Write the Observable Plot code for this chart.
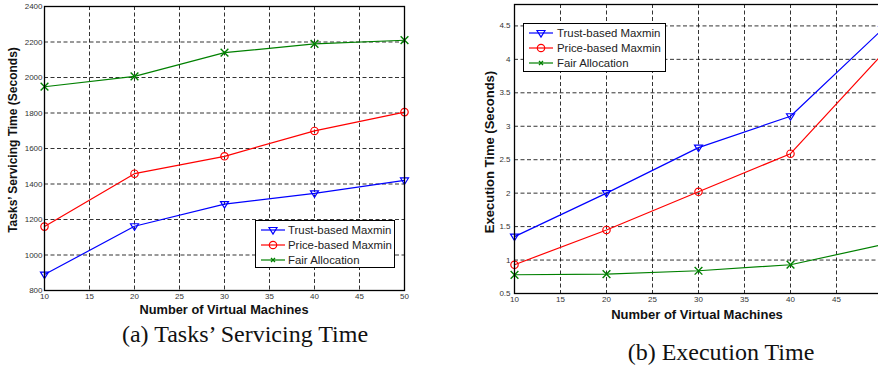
<!DOCTYPE html>
<html>
<head>
<meta charset="utf-8">
<script src="https://cdn.jsdelivr.net/npm/d3@7"></script>
<script src="https://cdn.jsdelivr.net/npm/@observablehq/plot@0.6"></script>
<style>
  html, body { margin: 0; padding: 0; background: #fff; }
  #wrap { position: relative; width: 878px; height: 368px; overflow: hidden; background: #fff; }
  .chart { position: absolute; top: 0; }
  .ttl { position: absolute; font-family: "Liberation Sans", Arial, sans-serif; font-weight: bold; color: #111; white-space: nowrap; transform: translate(-50%, -50%); }
  .ytl { transform: translate(-50%, -50%) rotate(-90deg); }
  .cap { position: absolute; font-family: "Liberation Serif", "Times New Roman", serif; font-size: 24px; color: #111; white-space: nowrap; transform: translate(-50%, -50%); }
  .leg { position: absolute; border: 1px solid #000; background: #fff; font-family: "Liberation Sans", Arial, sans-serif; font-size: 11.4px; color: #222; box-sizing: border-box; }
  .row { position: absolute; left: 0; height: 14px; display: flex; align-items: center; white-space: nowrap; }
  .row svg { display: block; }
</style>
</head>
<body>
<div id="wrap"></div>
<script>
// ---- data ----
const vms = [10, 20, 30, 40, 50];
const servTrust = [890, 1162, 1287, 1347, 1420];
const servPrice = [1160, 1458, 1556, 1699, 1805];
const servFair  = [1948, 2006, 2140, 2189, 2210];
const execTrust = [1.35, 2.0, 2.68, 3.15, 4.45];
const execPrice = [0.93, 1.45, 2.02, 2.59, 4.08];
const execFair  = [0.78, 0.79, 0.84, 0.93, 1.23];
const xTicks = [10, 15, 20, 25, 30, 35, 40, 45, 50];
const servTicks = [800, 1000, 1200, 1400, 1600, 1800, 2000, 2200, 2400];
const execTicks = [0.5, 1, 1.5, 2, 2.5, 3, 3.5, 4, 4.5];
const seriesNames = ["Trust-based Maxmin", "Price-based Maxmin", "Fair Allocation"];
const seriesColors = ["#0000ff", "#ff0000", "#008000"];

// custom downward triangle symbol
const triDown = {
  draw(ctx, size) {
    const r = Math.sqrt(size / Math.PI);
    ctx.moveTo(-r, -r * 0.62);
    ctx.lineTo(r, -r * 0.62);
    ctx.lineTo(0, r * 1.0);
    ctx.closePath();
  }
};

function rows(vals) { return vms.map((x, i) => ({x, y: vals[i]})); }

function makeChart(o) {
  const sets = [rows(o.s[0]), rows(o.s[1]), rows(o.s[2])];
  return Plot.plot({
    width: o.width, height: o.height,
    marginLeft: o.ml, marginRight: o.mr, marginTop: o.mt, marginBottom: o.mb,
    style: { fontFamily: "Liberation Sans, Arial, sans-serif", fontSize: "8px", color: "#333", background: "transparent", overflow: "visible" },
    x: { domain: [10, 50], ticks: xTicks, tickSize: 0, tickPadding: 3, tickFormat: d => String(d), label: null },
    y: { domain: o.ydom, ticks: o.yticks, tickSize: 0, tickPadding: o.yp, tickFormat: d => String(d), label: null },
    marks: [
      Plot.ruleX(xTicks, { stroke: "#000", strokeOpacity: 0.8, strokeWidth: 1, strokeDasharray: "4,2.5" }),
      Plot.ruleY(o.yticks, { stroke: "#000", strokeOpacity: 0.8, strokeWidth: 1, strokeDasharray: "4,2.5" }),
      Plot.line(sets[0], { x: "x", y: "y", stroke: seriesColors[0], strokeWidth: 1.2 }),
      Plot.line(sets[1], { x: "x", y: "y", stroke: seriesColors[1], strokeWidth: 1.2 }),
      Plot.line(sets[2], { x: "x", y: "y", stroke: seriesColors[2], strokeWidth: 1.2 }),
      Plot.dot(sets[0], { x: "x", y: "y", r: 4, symbol: triDown, stroke: seriesColors[0], fill: "none", strokeWidth: 1.2 }),
      Plot.dot(sets[1], { x: "x", y: "y", r: 3.7, stroke: seriesColors[1], fill: "none", strokeWidth: 1.2 }),
      Plot.dot(sets[2], { x: "x", y: "y", r: 3.6, symbol: "times", stroke: seriesColors[2], fill: "none", strokeWidth: 1.4 }),
      Plot.frame({ stroke: "#000", strokeWidth: 1.3 })
    ]
  });
}

const wrap = document.getElementById("wrap");

const a = makeChart({ width: 420, height: 305, ml: 44, mr: 16, mt: 6, mb: 15,
  ydom: [800, 2400], yticks: servTicks, yp: 2, s: [servTrust, servPrice, servFair] });
a.classList.add("chart"); a.style.left = "0px";
wrap.appendChild(a);

const b = makeChart({ width: 430, height: 310, ml: 54, mr: 8, mt: 4, mb: 17,
  ydom: [0.5, 4.82], yticks: execTicks, yp: 4, s: [execTrust, execPrice, execFair] });
b.classList.add("chart"); b.style.left = "460px";
wrap.appendChild(b);

function addText(cls, txt, x, y, size) {
  const d = document.createElement("div");
  d.className = cls; d.textContent = txt;
  d.style.left = x + "px"; d.style.top = y + "px";
  if (size) d.style.fontSize = size + "px";
  wrap.appendChild(d);
}
addText("ttl", "Number of Virtual Machines", 224, 309, 12.8);
addText("ttl ytl", "Tasks’ Servicing Time (Seconds)", 13, 140, 12);
addText("ttl", "Number of Virtual Machines", 697, 314, 13);
addText("ttl ytl", "Execution Time (Seconds)", 489, 152, 13);
addText("cap", "(a) Tasks’ Servicing Time", 245, 334);
addText("cap", "(b) Execution Time", 721, 352);

function marker(i) {
  const c = seriesColors[i];
  if (i === 0) return `<path d="M8,-2.5 L16,-2.5 L12,4 Z" transform="translate(0,6)" fill="none" stroke="${c}" stroke-width="1.2"/>`;
  if (i === 1) return `<circle cx="12" cy="6" r="3.7" fill="none" stroke="${c}" stroke-width="1.2"/>`;
  return `<path d="M10,4 L14,8 M14,4 L10,8" fill="none" stroke="${c}" stroke-width="1.3"/>`;
}
function addLegend(x, y, w, h, textX, rowYs) {
  const L = document.createElement("div");
  L.className = "leg";
  L.style.left = x + "px"; L.style.top = y + "px"; L.style.width = w + "px"; L.style.height = h + "px";
  seriesNames.forEach((name, i) => {
    const r = document.createElement("div");
    r.className = "row";
    r.style.top = (rowYs[i] - y - 7) + "px";
    r.style.left = "4px";
    r.innerHTML = `<svg width="26" height="12" viewBox="0 0 24 12"><line x1="0" y1="6" x2="24" y2="6" stroke="${seriesColors[i]}" stroke-width="1.2"/>${marker(i)}</svg><span style="margin-left:${textX - x - 4 - 26}px">${name}</span>`;
    L.appendChild(r);
  });
  wrap.appendChild(L);
}
addLegend(255, 220, 140, 48, 287, [229, 244, 259]);
addLegend(523, 23, 143, 49, 556, [32, 47, 62]);
</script>
</body>
</html>
